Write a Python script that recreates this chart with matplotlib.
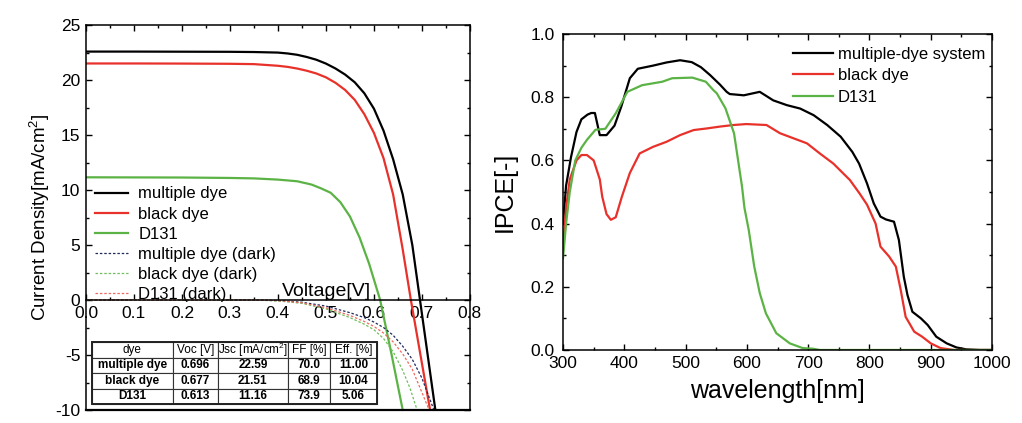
import matplotlib
matplotlib.use("Agg")
import matplotlib.pyplot as plt
from matplotlib.ticker import MultipleLocator, FormatStrFormatter
from matplotlib.patches import Rectangle

plt.rcParams['font.family'] = ['Liberation Sans', 'DejaVu Sans']
plt.rcParams['mathtext.fontset'] = 'custom'
plt.rcParams['mathtext.rm'] = 'Liberation Sans'
plt.rcParams['mathtext.it'] = 'Liberation Sans:italic'
plt.rcParams['mathtext.bf'] = 'Liberation Sans:bold'
plt.rcParams['axes.unicode_minus'] = False

# ---------------- J-V data ----------------
v_multi = [0, 0.1, 0.2, 0.3, 0.35, 0.4, 0.42, 0.44, 0.46, 0.48, 0.5, 0.52, 0.54, 0.56, 0.58, 0.6, 0.62, 0.64,
           0.66, 0.68, 0.696, 0.712, 0.728]
j_multi = [22.59, 22.59, 22.58, 22.57, 22.55, 22.5, 22.42, 22.3, 22.1, 21.85, 21.5, 21.05, 20.5, 19.8, 18.8, 17.4, 15.4, 12.8,
           9.6, 5.0, 0.0, -5.0, -10.0]

v_black = [0, 0.1, 0.2, 0.3, 0.35, 0.4, 0.42, 0.44, 0.46, 0.48, 0.5, 0.52, 0.54, 0.56, 0.58, 0.6, 0.62, 0.64,
           0.66, 0.677, 0.697, 0.717]
j_black = [21.51, 21.51, 21.5, 21.48, 21.45, 21.3, 21.2, 21.05, 20.85, 20.6, 20.25, 19.75, 19.1, 18.2, 16.9, 15.2, 12.9, 9.6,
           4.6, 0.0, -5.0, -10.0]

v_d131 = [0, 0.1, 0.2, 0.3, 0.35, 0.4, 0.44, 0.47, 0.49, 0.51, 0.53, 0.55, 0.57, 0.59, 0.613, 0.637, 0.66]
j_d131 = [11.16, 11.15, 11.14, 11.1, 11.06, 10.95, 10.8, 10.5, 10.15, 9.75, 8.9, 7.6, 5.7, 3.3, 0.0, -5.0, -10.0]

v_multi_dark = [0, 0.35, 0.4, 0.45, 0.5, 0.55, 0.58, 0.6, 0.62, 0.64, 0.66, 0.68, 0.7, 0.725]
j_multi_dark = [0, 0, -0.05, -0.2, -0.55, -1.15, -1.6, -2.0, -2.5, -3.2, -4.2, -5.4, -7.1, -10.0]

v_black_dark = [0, 0.35, 0.4, 0.45, 0.5, 0.55, 0.58, 0.6, 0.62, 0.64, 0.66, 0.675, 0.69]
j_black_dark = [0, 0, -0.08, -0.3, -0.8, -1.6, -2.2, -2.7, -3.5, -4.7, -6.4, -8.0, -10.0]

v_d131_dark = [0, 0.35, 0.4, 0.45, 0.5, 0.55, 0.58, 0.6, 0.62, 0.64, 0.66, 0.68, 0.7, 0.715]
j_d131_dark = [0, 0, -0.05, -0.25, -0.7, -1.4, -1.95, -2.4, -3.0, -3.8, -4.9, -6.3, -8.4, -10.0]

# table
tbl_cols = ['dye', 'Voc [V]', 'Jsc [mA/cm$^2$]', 'FF [%]', 'Eff. [%]']
tbl_dyes = ['multiple dye', 'black dye', 'D131']
tbl_voc = ['0.696', '0.677', '0.613']
tbl_jsc = ['22.59', '21.51', '11.16']
tbl_ff = ['70.0', '68.9', '73.9']
tbl_eff = ['11.00', '10.04', '5.06']

# ---------------- IPCE data ----------------
wl_multi = [300, 305, 313, 322, 330, 340, 346, 352, 360, 371, 384, 395, 409, 422, 447, 469, 491, 510, 525, 540,
            556, 567, 572, 595, 621, 643, 665, 687, 709, 731, 753, 772, 783, 796, 807, 818, 827, 840, 848, 856,
            862, 870, 884, 895, 909, 926, 942, 958, 980, 1000]
ipce_multi = [0.40, 0.52, 0.61, 0.69, 0.73, 0.745, 0.75, 0.75, 0.68, 0.68, 0.71, 0.77, 0.86, 0.89, 0.90, 0.91, 0.917, 0.911, 0.895, 0.87,
              0.84, 0.817, 0.81, 0.806, 0.817, 0.79, 0.775, 0.764, 0.743, 0.712, 0.675, 0.627, 0.59, 0.527, 0.464, 0.422, 0.413, 0.406, 0.348, 0.232,
              0.174, 0.121, 0.10, 0.079, 0.042, 0.021, 0.008, 0.002, 0.0, 0.0]

wl_black = [300, 305, 311, 322, 330, 339, 350, 360, 364, 371, 378, 386, 396, 409, 425, 447, 469, 491, 513, 534,
            556, 578, 599, 632, 654, 676, 698, 719, 741, 768, 784, 796, 810, 818, 832, 843, 851, 859, 873, 886,
            900, 916, 938, 1000]
ipce_black = [0.32, 0.45, 0.54, 0.60, 0.617, 0.617, 0.60, 0.54, 0.485, 0.43, 0.412, 0.42, 0.485, 0.56, 0.622, 0.643, 0.659, 0.68, 0.696, 0.701,
              0.707, 0.712, 0.715, 0.712, 0.686, 0.67, 0.654, 0.622, 0.59, 0.538, 0.495, 0.46, 0.40, 0.327, 0.296, 0.264, 0.19, 0.105, 0.058, 0.042,
              0.021, 0.006, 0.0, 0.0]

wl_d131 = [300, 305, 311, 320, 330, 339, 353, 369, 386, 405, 429, 462, 478, 511, 533, 545, 551, 565, 579, 592,
           596, 603, 612, 621, 631, 648, 670, 691, 708, 719, 1000]
ipce_d131 = [0.29, 0.40, 0.50, 0.60, 0.64, 0.665, 0.697, 0.70, 0.749, 0.817, 0.838, 0.849, 0.86, 0.862, 0.849, 0.823, 0.812, 0.765, 0.686, 0.518,
             0.45, 0.38, 0.264, 0.18, 0.116, 0.053, 0.021, 0.006, 0.004, 0.0, 0.0]

BLACK = '#000000'
RED = '#e8312a'
GREEN = '#5cb345'
NAVY = '#1f2a5a'
RED_L = '#ee6a60'
GREEN_L = '#6fbf5c'

fig = plt.figure(figsize=(10.22, 4.23), dpi=100)

# ---------------- left panel ----------------
ax1 = fig.add_axes([0.0841, 0.0307, 0.3757, 0.910])
ax1.plot(v_multi, j_multi, color=BLACK, lw=1.6, label='multiple dye')
ax1.plot(v_black, j_black, color=RED, lw=1.6, label='black dye')
ax1.plot(v_d131, j_d131, color=GREEN, lw=1.6, label='D131')
ax1.plot(v_multi_dark, j_multi_dark, color=NAVY, lw=0.9, ls=(0, (2, 1.5)), label='multiple dye (dark)')
ax1.plot(v_black_dark, j_black_dark, color=GREEN_L, lw=0.9, ls=(0, (2, 1.5)), label='black dye (dark)')
ax1.plot(v_d131_dark, j_d131_dark, color=RED_L, lw=0.9, ls=(0, (2, 1.5)), label='D131 (dark)')

ax1.set_xlim(0, 0.8)
ax1.set_ylim(-10, 25)
ax1.spines['bottom'].set_position(('data', 0))
for s in ax1.spines.values():
    s.set_linewidth(1.1)
ax1.plot([0, 1], [0, 0], transform=ax1.transAxes, color='k', lw=1.6, clip_on=False)

ax1.xaxis.set_major_locator(MultipleLocator(0.1))
ax1.xaxis.set_minor_locator(MultipleLocator(0.05))
ax1.xaxis.set_major_formatter(FormatStrFormatter('%.1f'))
ax1.yaxis.set_major_locator(MultipleLocator(5))
ax1.yaxis.set_minor_locator(MultipleLocator(2.5))
ax1.tick_params(which='both', direction='in', top=True, right=True, width=1.0, labelsize=12.5)
ax1.tick_params(which='major', length=4.5)
ax1.tick_params(which='minor', length=2.5)
ax1.tick_params(axis='x', pad=4)
ax1.tick_params(axis='y', pad=4)
ax1.set_ylabel('Current Density[mA/cm$^2$]', fontsize=13.5, labelpad=2)
ax1.text(0.502, 0.35, 'Voltage[V]', fontsize=14, ha='center', va='baseline')

leg1 = ax1.legend(loc='upper left', bbox_to_anchor=(0.0234, 0.581), frameon=False, fontsize=12,
                  borderpad=0, borderaxespad=0, handlelength=2.0, handletextpad=0.6, labelspacing=0.31)

cells = [[tbl_dyes[i], tbl_voc[i], tbl_jsc[i], tbl_ff[i], tbl_eff[i]] for i in range(len(tbl_dyes))]
tb = ax1.table(cellText=cells, colLabels=tbl_cols, cellLoc='center',
               colWidths=[81, 45, 70, 42, 47], bbox=[0.0156, 0.0156, 0.742, 0.161])
tb.auto_set_font_size(False)
for (r, c), cell in tb.get_celld().items():
    cell.set_linewidth(0.8)
    cell.set_edgecolor('#333333')
    cell.set_facecolor('white')
    cell.PAD = 0.02
    t = cell.get_text()
    t.set_fontsize(8.5)
    if r > 0:
        t.set_fontweight('bold')
ax1.add_patch(Rectangle((0.0156, 0.0156), 0.742, 0.161, transform=ax1.transAxes, fill=False,
                        lw=1.4, edgecolor='#222222', zorder=10))

# ---------------- right panel ----------------
ax2 = fig.add_axes([0.5509, 0.1726, 0.4198, 0.747])
ax2.plot(wl_multi, ipce_multi, color=BLACK, lw=1.6, label='multiple-dye system')
ax2.plot(wl_black, ipce_black, color=RED, lw=1.6, label='black dye')
ax2.plot(wl_d131, ipce_d131, color=GREEN, lw=1.6, label='D131')
ax2.set_xlim(300, 1000)
ax2.set_ylim(0, 1.0)
for s in ax2.spines.values():
    s.set_linewidth(1.1)
ax2.xaxis.set_major_locator(MultipleLocator(100))
ax2.xaxis.set_minor_locator(MultipleLocator(50))
ax2.yaxis.set_major_locator(MultipleLocator(0.2))
ax2.yaxis.set_minor_locator(MultipleLocator(0.1))
ax2.yaxis.set_major_formatter(FormatStrFormatter('%.1f'))
ax2.tick_params(which='both', direction='in', top=True, right=True, width=1.0, labelsize=12.5)
ax2.tick_params(which='major', length=4.5)
ax2.tick_params(which='minor', length=2.5)
ax2.tick_params(axis='y', pad=6)
ax2.tick_params(axis='x', pad=4)
ax2.set_xlabel('wavelength[nm]', fontsize=18, labelpad=6)
ax2.set_ylabel('IPCE[-]', fontsize=18, labelpad=10)
ax2.legend(loc='upper left', bbox_to_anchor=(0.536, 0.959), frameon=False, fontsize=12,
           borderpad=0, borderaxespad=0, handlelength=2.4, handletextpad=0.3, labelspacing=0.38)

fig.savefig('out.png', dpi=100)
